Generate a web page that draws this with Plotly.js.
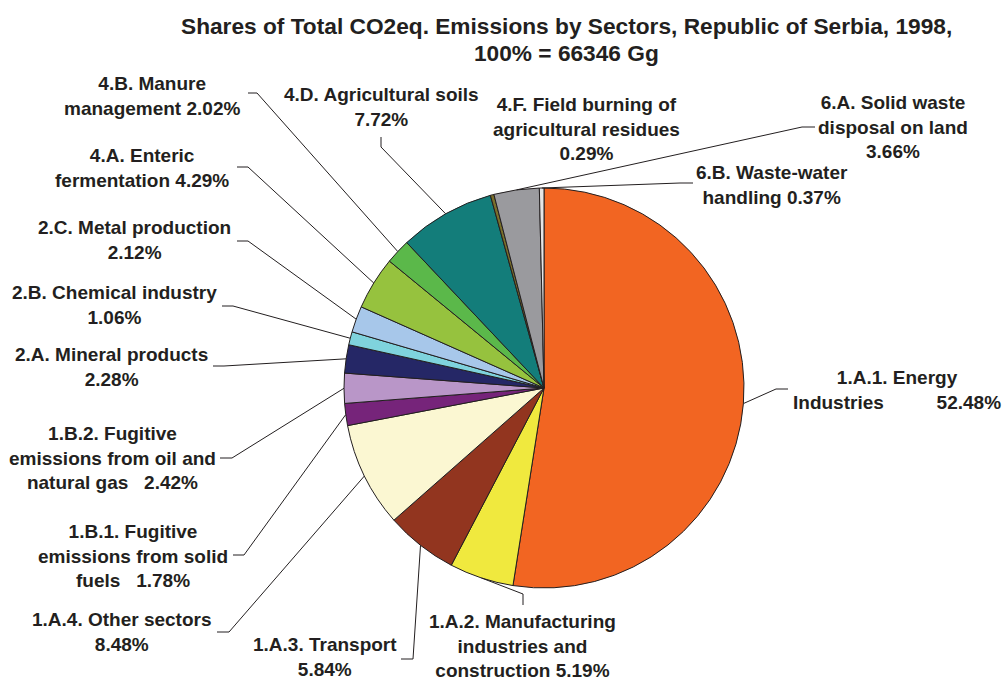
<!DOCTYPE html>
<html>
<head>
<meta charset="utf-8">
<script src="https://cdn.plot.ly/plotly-3.0.1.min.js"></script>
<style>html,body{margin:0;padding:0;background:#fff;}#chart{width:1004px;height:680px;}</style>
</head>
<body>
<div id="chart"></div>
<script>
// ---- data ----
const categories = [
  "1.A.1. Energy<br>Industries\u00A0\u00A0\u00A0\u00A0\u00A0\u00A0\u00A0\u00A0\u00A0\u00A0",
  "1.A.2. Manufacturing<br>industries and<br>construction ",
  "1.A.3. Transport<br>",
  "1.A.4. Other sectors<br>",
  "1.B.1. Fugitive<br>emissions from solid<br>fuels\u00A0\u00A0\u00A0",
  "1.B.2. Fugitive<br>emissions from oil and<br>natural gas\u00A0\u00A0\u00A0",
  "2.A. Mineral products<br>",
  "2.B. Chemical industry<br>",
  "2.C. Metal production<br>",
  "4.A. Enteric<br>fermentation ",
  "4.B. Manure<br>management ",
  "4.D. Agricultural soils<br>",
  "4.F. Field burning of<br>agricultural residues<br>",
  "6.A. Solid waste<br>disposal on land<br>",
  "6.B. Waste-water<br>handling "
];
const shares = [52.48, 5.19, 5.84, 8.48, 1.78, 2.42, 2.28, 1.06, 2.12, 4.29, 2.02, 7.72, 0.29, 3.66, 0.37];
const titleLines = ["Shares of Total CO2eq. Emissions by Sectors, Republic of Serbia, 1998,", "100% = 66346 Gg"];

// ---- styles / layout positions (pixels) ----
const W = 1004, H = 680;
const colors = ["#f26522", "#f0e93e", "#92351f", "#fbf7d2", "#76247a", "#b996c8", "#252766",
  "#7fd3dd", "#a7c7ea", "#96c23e", "#5bb84a", "#137d7a", "#7a6f2a", "#9a9a9e", "#e6e6e6"];
const cx = 544, cy = 388, R = 200;
// label block centre [x, y]
const labelPos = [[897, 390], [522, 646], [325, 657], [122, 632], [133, 556], [112, 458], [111, 367],
  [114, 305], [134, 240], [142, 168], [152, 96], [381, 107], [586, 129], [893, 127], [772, 185]];
// leader: [outerX, outerY, elbowX, elbowY] or null
const leaders = [[788, 389, 776, 389], [523, 605, 523, 594], [401, 659, 413, 659], [217, 632, 229, 632],
  [233, 555, 244, 555], [220, 458, 232, 458], [213, 366, 224, 366], [222, 306, 233, 306],
  [237, 241, 248, 241], [237, 167, 248, 167], [248, 93, 257, 93], [381, 137, 381, 147],
  null, [815, 127, 802, 127], [693, 183, 680, 183]];
const titlePos = [[566, 26], [566, 53]];

const px = x => x / W, py = y => 1 - y / H;
const textColor = "#231f20";
const fontFam = "Liberation Sans, Arial, Helvetica, sans-serif";

const total = shares.reduce((a, b) => a + b, 0);
const annotations = [];
const shapes = [];
let cum = 0;
shares.forEach((v, i) => {
  const mid = (cum + v / 2) / total * 2 * Math.PI;
  cum += v;
  const ex = cx + R * Math.sin(mid), ey = cy - R * Math.cos(mid);
  annotations.push({
    xref: "paper", yref: "paper", x: px(labelPos[i][0]), y: py(labelPos[i][1]),
    xanchor: "center", yanchor: "middle", align: "center", showarrow: false,
    text: "<b>" + categories[i] + v.toFixed(2) + "%</b>",
    font: {family: fontFam, size: 19, color: textColor}
  });
  const L = leaders[i];
  if (L) {
    shapes.push({
      type: "path", xref: "paper", yref: "paper",
      path: `M ${px(L[0])} ${py(L[1])} L ${px(L[2])} ${py(L[3])} L ${px(ex)} ${py(ey)}`,
      line: {color: textColor, width: 1}
    });
  }
});
titleLines.forEach((t, i) => {
  annotations.push({
    xref: "paper", yref: "paper", x: px(titlePos[i][0]), y: py(titlePos[i][1]),
    xanchor: "center", yanchor: "middle", showarrow: false,
    text: "<b>" + t + "</b>",
    font: {family: fontFam, size: 22.7, color: textColor}
  });
});

const trace = {
  type: "pie", values: shares, labels: categories.map((c, i) => "s" + i),
  sort: false, direction: "clockwise", rotation: 0,
  textinfo: "none", hoverinfo: "none", showlegend: false,
  marker: {colors: colors, line: {color: textColor, width: 1}},
  domain: {x: [px(cx - R), px(cx + R)], y: [py(cy + R), py(cy - R)]}
};

const layout = {
  width: W, height: H, margin: {l: 0, r: 0, t: 0, b: 0},
  paper_bgcolor: "#ffffff", plot_bgcolor: "#ffffff",
  annotations: annotations, shapes: shapes
};

Plotly.newPlot("chart", [trace], layout, {displayModeBar: false, staticPlot: true});
</script>
</body>
</html>
